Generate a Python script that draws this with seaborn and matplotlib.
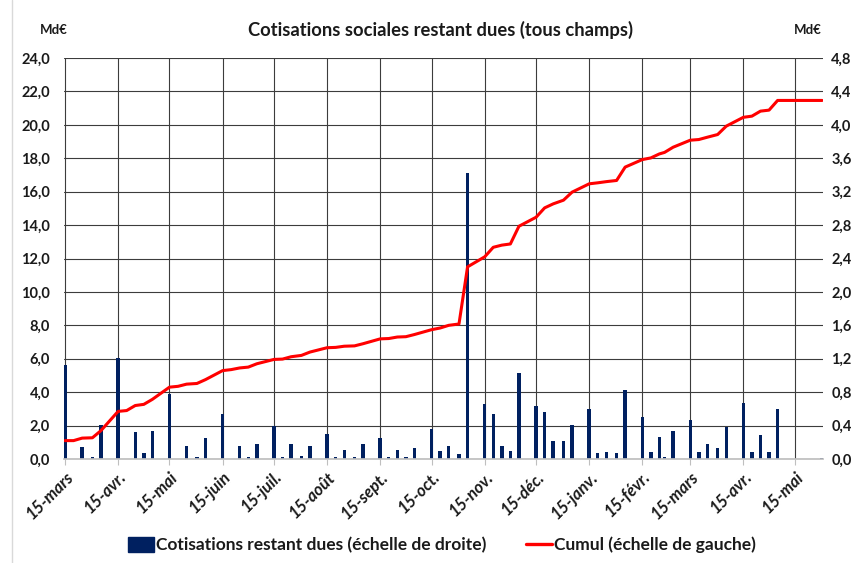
import matplotlib
matplotlib.use("Agg")
import matplotlib.pyplot as plt
import numpy as np
import pandas as pd
import seaborn as sns
from matplotlib.lines import Line2D
from matplotlib.patches import Patch

# due dates (5, 15, 20, 25, end of month)
DATES = [
    "2020-03-15", "2020-03-20", "2020-03-25", "2020-03-31",
    "2020-04-05", "2020-04-15", "2020-04-20", "2020-04-25", "2020-04-30",
    "2020-05-05", "2020-05-15", "2020-05-20", "2020-05-25", "2020-05-31",
    "2020-06-05", "2020-06-15", "2020-06-20", "2020-06-25", "2020-06-30",
    "2020-07-05", "2020-07-15", "2020-07-20", "2020-07-25", "2020-07-31",
    "2020-08-05", "2020-08-15", "2020-08-20", "2020-08-25", "2020-08-31",
    "2020-09-05", "2020-09-15", "2020-09-20", "2020-09-25", "2020-09-30",
    "2020-10-05", "2020-10-15", "2020-10-20", "2020-10-25", "2020-10-31",
    "2020-11-05", "2020-11-15", "2020-11-20", "2020-11-25", "2020-11-30",
    "2020-12-05", "2020-12-15", "2020-12-20", "2020-12-25", "2020-12-31",
    "2021-01-05", "2021-01-15", "2021-01-20", "2021-01-25", "2021-01-31",
    "2021-02-05", "2021-02-15", "2021-02-20", "2021-02-25", "2021-02-28",
    "2021-03-05", "2021-03-15", "2021-03-20", "2021-03-25", "2021-03-31",
    "2021-04-05", "2021-04-15", "2021-04-20", "2021-04-25", "2021-04-30",
    "2021-05-05", "2021-05-15", "2021-05-20", "2021-05-25", "2021-05-31",
]

# cotisations restant dues, Md€ (right scale)
RESTANT = [
    1.12, 0.00, 0.14, 0.02,
    0.41, 1.21, 0.00, 0.32, 0.07,
    0.34, 0.78, 0.00, 0.16, 0.02,
    0.25, 0.54, 0.00, 0.16, 0.02,
    0.18, 0.39, 0.02, 0.18, 0.04,
    0.16, 0.30, 0.02, 0.11, 0.02,
    0.18, 0.25, 0.02, 0.11, 0.02,
    0.13, 0.36, 0.09, 0.16, 0.06,
    3.42, 0.66, 0.54, 0.16, 0.09,
    1.03, 0.63, 0.56, 0.22, 0.21,
    0.41, 0.60, 0.07, 0.08, 0.07,
    0.83, 0.50, 0.08, 0.26, 0.02,
    0.33, 0.47, 0.08, 0.18, 0.13,
    0.38, 0.67, 0.08, 0.29, 0.08,
    0.60, 0.00, 0.00, 0.00, 0.01,
]

# cumul, Md€ (left scale)
CUMUL = [
    1.10, 1.10, 1.25, 1.27,
    1.70, 2.85, 2.90, 3.20, 3.27,
    3.57, 4.30, 4.35, 4.48, 4.52,
    4.75, 5.29, 5.35, 5.45, 5.50,
    5.70, 5.96, 5.98, 6.12, 6.20,
    6.40, 6.66, 6.68, 6.75, 6.77,
    6.90, 7.19, 7.21, 7.30, 7.32,
    7.45, 7.74, 7.84, 8.00, 8.08,
    11.50, 12.10, 12.67, 12.80, 12.87,
    13.93, 14.47, 15.03, 15.27, 15.49,
    15.97, 16.47, 16.53, 16.60, 16.67,
    17.47, 17.92, 18.02, 18.26, 18.35,
    18.66, 19.08, 19.12, 19.26, 19.42,
    19.92, 20.45, 20.52, 20.82, 20.88,
    21.46, 21.46, 21.46, 21.46, 21.46,
]

TICK_LABELS = [
    "15-mars", "15-avr.", "15-mai", "15-juin", "15-juil.", "15-août",
    "15-sept.", "15-oct.", "15-nov.", "15-déc.", "15-janv.", "15-févr.",
    "15-mars", "15-avr.", "15-mai",
]

NAVY = "#002060"
RED = "#FF0000"
GRID = "#3c3c3c"
TXT = "#1a1a1a"

sns.set_theme(style="white")
plt.rcParams["font.family"] = ["Lato", "DejaVu Sans"]

df = pd.DataFrame({"date": pd.to_datetime(DATES), "restant": RESTANT, "cumul": CUMUL})
tick_dates = pd.date_range("2020-03-15", periods=len(TICK_LABELS), freq=pd.DateOffset(months=1))

W, H = 857, 563
fig = plt.figure(figsize=(W / 100, H / 100), dpi=100)
ax = fig.add_axes([64 / W, 1 - 459 / H, (823 - 64) / W, (459 - 58) / H])

# bars on the right scale
ax.bar(df["date"], df["restant"], width=2.0, color=NAVY, lw=0, zorder=2)
ax.set_ylim(0, 4.8)
right_ticks = np.arange(0, 4.81, 0.4)
ax.set_yticks(right_ticks)
ax.set_yticklabels([f"{v:.1f}".replace(".", ",") for v in right_ticks],
                   fontweight="bold", fontsize=10.5, color=TXT)

ax.set_xlim(pd.Timestamp("2020-03-14 10:00"), pd.Timestamp("2021-05-31 12:00"))
ax.set_xticks(tick_dates)
ax.set_xticklabels(TICK_LABELS, rotation=45, ha="right", va="top",
                   rotation_mode="anchor", fontstyle="italic",
                   fontweight="bold", fontsize=12, color=TXT)
ax.tick_params(axis="x", bottom=True, length=4, width=0.8, color="#bfbfbf", pad=3)

ax.grid(True, color=GRID, lw=0.8)
ax.set_axisbelow(True)
for side in ["top", "left", "right"]:
    ax.spines[side].set_visible(False)
ax.spines["bottom"].set_color("#bfbfbf")
ax.set_xlabel("")
ax.set_ylabel("")

# cumulative line on the left scale, drawn above bars
ax2 = ax.twinx()
sns.lineplot(data=df, x="date", y="cumul", ax=ax2, color=RED, lw=2.2)
ax2.set_ylim(0, 24)
left_ticks = np.arange(0, 24.1, 2)
ax2.set_yticks(left_ticks)
ax2.set_yticklabels([f"{v:.1f}".replace(".", ",") for v in left_ticks],
                    fontweight="bold", fontsize=10.5, color=TXT)
ax2.yaxis.tick_left()
ax2.tick_params(axis="y", left=False, right=False, length=0, pad=10)
ax2.set_xlabel("")
ax2.set_ylabel("")
for side in ax2.spines:
    ax2.spines[side].set_visible(False)
ax2.set_xlim(ax.get_xlim())

# twinx moved the first axis' ticks to the left: put them back on the right
ax.yaxis.tick_right()
ax.tick_params(axis="y", right=False, left=False, labelleft=False,
               labelright=True, length=0, pad=6)

fig.text(440 / W, 1 - 30 / H, "Cotisations sociales restant dues (tous champs)",
         ha="center", va="center", fontweight="bold", fontsize=13.2, color=TXT)
fig.text(54 / W, 1 - 30 / H, "Md€", ha="center", va="center",
         fontweight="bold", fontsize=9.5, color=TXT)
fig.text(808 / W, 1 - 30 / H, "Md€", ha="center", va="center",
         fontweight="bold", fontsize=9.5, color=TXT)

# faint chart-area border on the left
fig.add_artist(Line2D([12 / W, 12 / W], [0, 1], transform=fig.transFigure,
                      color="#d9d9d9", lw=1))

handles = [Patch(facecolor=NAVY, edgecolor=NAVY),
           Line2D([], [], color=RED, lw=2.4)]
labels = ["Cotisations restant dues (échelle de droite)", "Cumul (échelle de gauche)"]
fig.legend(handles, labels, loc="center", bbox_to_anchor=(442 / W, 1 - 545 / H),
           ncol=2, frameon=False, prop={"weight": "bold", "size": 12.5},
           handlelength=1.5, handleheight=1.0, handletextpad=0.1,
           columnspacing=2.3, labelcolor=TXT)

fig.savefig("out.png", dpi=100)
